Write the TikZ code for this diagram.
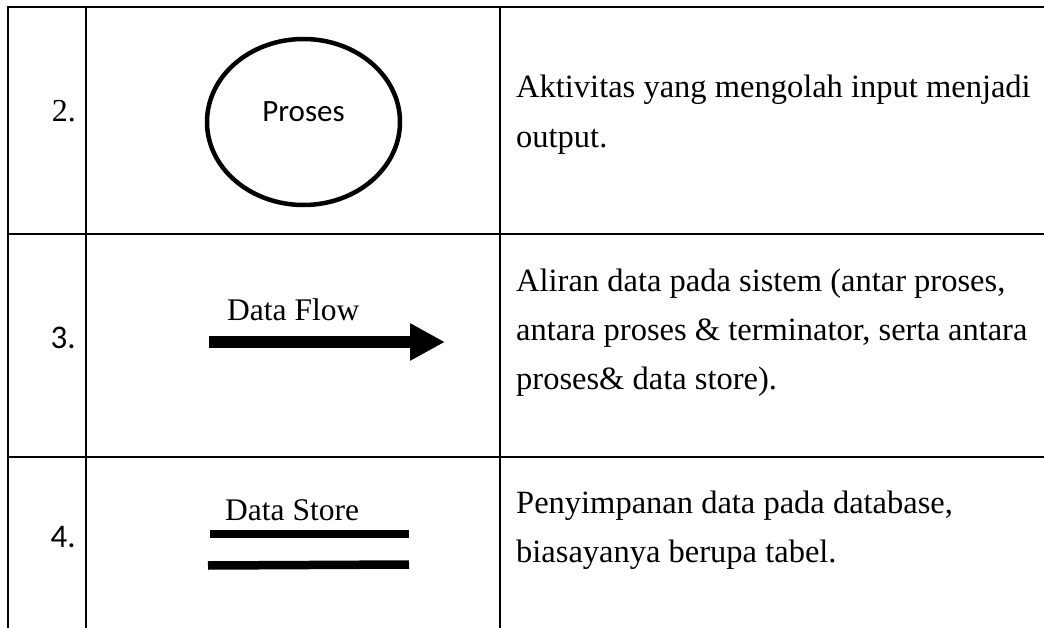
\documentclass[tikz,border=0pt]{standalone}
\usepackage{fontspec}
\setmainfont{Liberation Serif}
\newfontfamily\calib{Carlito}
\usetikzlibrary{arrows.meta,shapes.geometric}
\tikzset{
  grid/.style={line width=2.8pt, black},
  celltext/.style={anchor=base west, inner sep=0pt, font=\fontsize{32.5}{40}\selectfont},
  numserif/.style={anchor=base east, inner sep=0pt, font=\fontsize{32}{38}\selectfont},
  numsans/.style={anchor=base east, inner sep=0pt, font=\calib\fontsize{33}{38}\selectfont},
  symlabel/.style={anchor=base west, inner sep=0pt, font=\fontsize{31.5}{38}\selectfont},
  procshape/.style={draw, line width=4.5pt, ellipse, minimum width=193pt, minimum height=166pt, inner sep=0pt},
  storebar/.style={line width=8.5pt},
}
\begin{document}
\begin{tikzpicture}[x=1pt, y=-1pt]
\useasboundingbox (0,0) rectangle (1044,628);
\fill[white] (0,0) rectangle (1044,628);

% table rules
\coordinate (tl) at (8,7);
\coordinate (tr) at (1044,7);
\draw[grid] (tl) -- (tr);
\draw[grid] (8,234) -- (1044,234);
\draw[grid] (8,457) -- (1044,457);
\draw[grid] (8,5.6) -- (8,628);
\draw[grid] (86,5.6) -- (86,628);
\draw[grid] (500,5.6) -- (500,628);

% row numbers
\node[numserif] (n2) at (76,122) {2.};
\node[numsans]  (n3) at (76,348) {3.};
\node[numsans]  (n4) at (76,547) {4.};

% process symbol
\node[procshape] (proc) at (303.5,122) {};
\node[anchor=base, inner sep=0pt, font=\calib\fontsize{31}{36}\selectfont] (proclabel) at (303.5,122) {Proses};

% data flow symbol
\node[symlabel] (flowlabel) at (227,320) {Data Flow};
\coordinate (fa) at (209,342);
\coordinate (fb) at (445,342);
\draw[line width=12pt, -{Triangle[length=35pt, width=35pt]}] (fa) -- (fb);

% data store symbol
\node[symlabel] (storelabel) at (225,520) {Data Store};
\coordinate (s1a) at (210,534);
\coordinate (s1b) at (409,534);
\coordinate (s2a) at (208,565.5);
\coordinate (s2b) at (409,564.5);
\draw[storebar] (s1a) -- (s1b);
\draw[storebar] (s2a) -- (s2b);

% descriptions, one node per line
\node[celltext] (d2a) at (516,98) {Aktivitas yang mengolah input menjadi};
\node[celltext] (d2b) at (516,148) {output.};
\node[celltext] (d3a) at (516,291) {Aliran data pada sistem (antar proses,};
\node[celltext] (d3b) at (516,340) {antara proses \& terminator, serta antara};
\node[celltext] (d3c) at (516,389) {proses\& data store).};
\node[celltext] (d4a) at (516,513) {Penyimpanan data pada database,};
\node[celltext] (d4b) at (516,562) {biasayanya berupa tabel.};
\end{tikzpicture}
\end{document}
